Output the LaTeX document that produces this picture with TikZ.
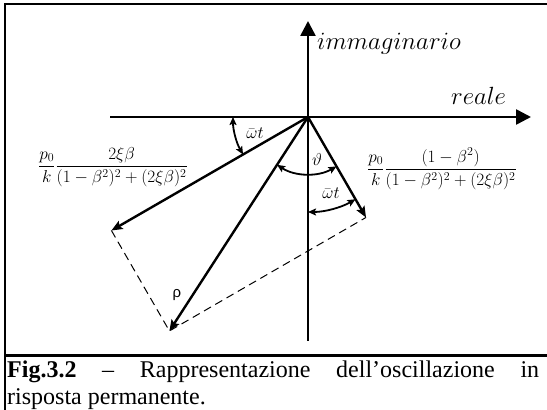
\documentclass[tikz,border=0pt]{standalone}
\usepackage{fontspec}
\usetikzlibrary{arrows.meta,calc}
\newfontfamily\capfont{Liberation Serif}
\newfontfamily\rhofont{Liberation Sans}
\begin{document}
\begin{tikzpicture}[x=1pt,y=1pt,
  axisline/.style={line width=2.6pt,-{Triangle[length=15pt,width=15pt]}},
  vec/.style={line width=2.4pt,-{Stealth[length=11pt,width=9pt,inset=2pt]}},
  angarc/.style={line width=1.8pt,{Stealth[length=8pt,width=7pt,inset=1.5pt]}-{Stealth[length=8pt,width=7pt,inset=1.5pt]}},
  compline/.style={line width=1pt,dash pattern=on 8pt off 5pt},
  lbl/.style={inner sep=0pt},
  frameline/.style={line width=2.2pt}]
\useasboundingbox (0,0) rectangle (547,410);
\clip (0,0) rectangle (547,410);
% frame
\draw[frameline] (5,406) rectangle (552,-6);
\coordinate (sepL) at (5,54.5);
\coordinate (sepR) at (552,54.5);
\draw[frameline] (sepL) -- (sepR);
% axes
\coordinate (O) at (308,293);
\coordinate (hL) at (110,293);
\coordinate (hR) at (531,293);
\coordinate (vB) at (308,69);
\coordinate (vT) at (308,389);
\draw[axisline] (hL) -- (hR);
\draw[axisline] (vB) -- (vT);
% vectors
\coordinate (P1) at ($(O)+(210:227)$);
\coordinate (P2) at ($(O)+(300:116)$);
\coordinate (R) at ($(P1)+(P2)-(O)$);
\draw[compline] (P1) -- (R) -- (P2);
\draw[vec] (O) -- (P1);
\draw[vec] (O) -- (P2);
\draw[vec] (O) -- (R);
% angle arcs
\draw[angarc] ($(O)+(180:75)$) arc[start angle=180,end angle=210,radius=75];
\draw[angarc] ($(O)+(237.1:57)$) arc[start angle=237.1,end angle=300,radius=57];
\draw[angarc] ($(O)+(270:95)$) arc[start angle=270,end angle=300,radius=95];
% labels
\node[lbl,anchor=base west,font=\fontsize{23.5}{27}\selectfont] (lim) at (317,360) {$immaginario$};
\node[lbl,anchor=base west,font=\fontsize{23.5}{27}\selectfont] (lre) at (451,305) {$reale$};
\node[lbl,font=\fontsize{17}{20}\selectfont] (lw1) at (255,277) {$\bar\omega t$};
\node[lbl,font=\fontsize{17}{20}\selectfont] (lw2) at (331,217) {$\bar\omega t$};
\node[lbl,font=\fontsize{17}{20}\selectfont] (lth) at (317,250) {$\vartheta$};
\node[lbl,font=\rhofont\fontsize{15}{18}\selectfont] (lrho) at (177,115) {ρ};
\node[lbl,anchor=east,font=\fontsize{16.5}{20}\selectfont] (fl) at (188,243)
  {$\displaystyle\frac{p_0}{k}\frac{2\xi\beta}{(1-\beta^2)^2+(2\xi\beta)^2}$};
\node[lbl,anchor=west,font=\fontsize{16.5}{20}\selectfont] (fr) at (367,241)
  {$\displaystyle\frac{p_0}{k}\frac{(1-\beta^2)}{(1-\beta^2)^2+(2\xi\beta)^2}$};
% caption
\node[lbl,anchor=north west,text width=532pt,align=justify,
  font=\capfont\fontsize{24}{27}\selectfont] (cap) at (7,49)
  {\textbf{Fig.3.2} – Rappresentazione dell’oscillazione in\linebreak risposta permanente.};
\end{tikzpicture}
\end{document}
